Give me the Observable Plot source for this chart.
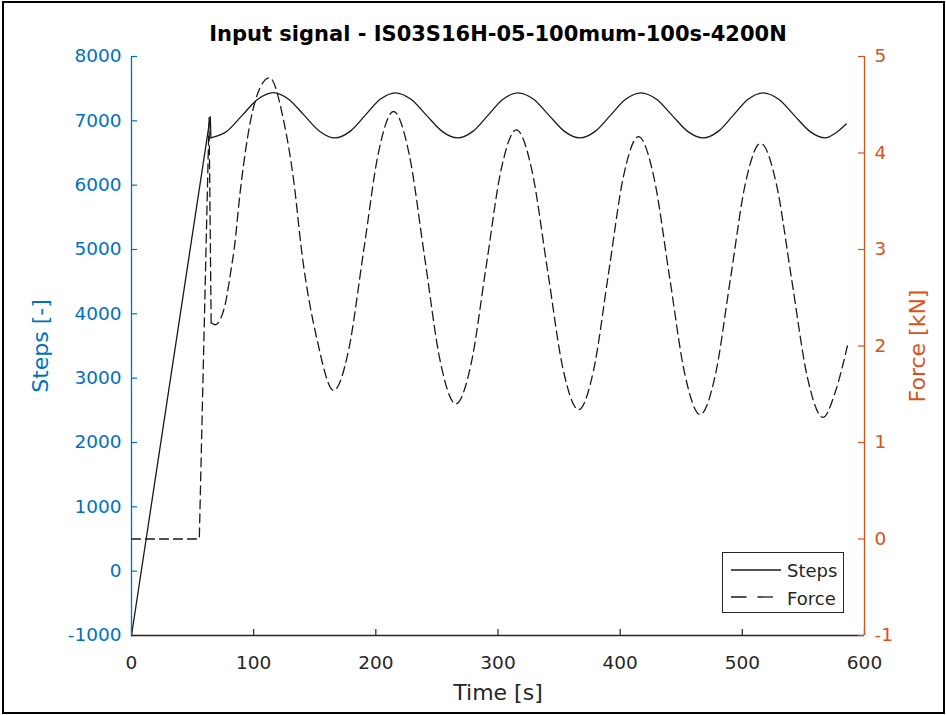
<!DOCTYPE html>
<html>
<head>
<meta charset="utf-8">
<script src="https://cdn.jsdelivr.net/npm/d3@7"></script>
<script src="https://cdn.jsdelivr.net/npm/@observablehq/plot@0.6"></script>
<style>
  html, body { margin: 0; padding: 0; background: white; }
  #wrap { position: relative; width: 946px; height: 715px; overflow: hidden; }
  #wrap svg { position: absolute; left: 0; top: 0; }
  #frame { position: absolute; left: 2px; top: 1px; width: 939px; height: 709px; border: 2px solid #000; pointer-events: none; }
  #legend { position: absolute; left: 722px; top: 552px; width: 120px; height: 59px; border: 1px solid #262626; background: #fff; }
</style>
</head>
<body>
<div id="wrap"></div>
<script>
// ---------- data ----------
const title = "Input signal - IS03S16H-05-100mum-100s-4200N";
const xLabel = "Time [s]";
const stepsLabel = "Steps [-]";
const forceLabel = "Force [kN]";
const seriesNames = ["Steps", "Force"];

const xTicks = [0, 100, 200, 300, 400, 500, 600];
const stepsTicks = [-1000, 0, 1000, 2000, 3000, 4000, 5000, 6000, 7000, 8000];
const forceTicks = [-1, 0, 1, 2, 3, 4, 5];

// Steps: linear ramp, then oscillation
const rampTime  = [0, 64.5, 65];
const rampSteps = [-1000, 7065, 6735];
const waveTime  = [65, 78.1, 90.75, 103.4, 116, 128.6, 141.25, 153.9, 166.5, 178.9, 191.25, 203.6, 216,
                   228.75, 241.5, 254.25, 267, 279.4, 291.75, 304.1, 316.5, 329.1, 341.75, 354.4, 367,
                   379.5, 392, 404.5, 417, 429.75, 442.5, 455.25, 468, 480.25, 492.5, 504.75, 517,
                   529.75, 542.5, 555.25, 568, 576.5, 585];
const waveSteps = [6735, 6838, 7088, 7337, 7440, 7337, 7088, 6838, 6734, 6836, 7085, 7334, 7436,
                   7334, 7085, 6836, 6734, 6836, 7085, 7334, 7435, 7334, 7085, 6836, 6734,
                   6836, 7085, 7334, 7435, 7334, 7085, 6836, 6734, 6836, 7085, 7334, 7435,
                   7334, 7085, 6836, 6734, 6812, 6950];

// Force: zero, fast rise, then oscillation
const forceRampTime = [0, 55.5, 63.5, 65.2];
const forceRampVal  = [0, 0, 4.37, 2.24];
const forceWaveTime = [65.2, 68.5, 72.8, 77, 81, 84, 89, 94.6, 104, 113, 124.6, 132.8, 139.6, 152, 165.5,
                       177.75, 190, 202.25, 214.5, 227.25, 240, 252.75, 265.5, 277.9, 290.25, 302.6, 315,
                       327.75, 340.5, 353.25, 366, 378.25, 390.5, 402.75, 415, 427.6, 440.25, 452.9, 465.5,
                       477.9, 490.25, 502.6, 515, 527.75, 540.5, 553.25, 566, 576, 586];
const forceWaveVal  = [2.24, 2.22, 2.28, 2.45, 2.75, 3.0, 3.6, 4.13, 4.64, 4.78, 4.33, 3.71, 2.95, 2.06, 1.54,
                       1.96, 2.985, 4.01, 4.43, 3.99, 2.915, 1.84, 1.40, 1.81, 2.82, 3.83, 4.24,
                       3.82, 2.79, 1.76, 1.34, 1.75, 2.755, 3.76, 4.17, 3.75, 2.73, 1.71, 1.29,
                       1.70, 2.695, 3.69, 4.10, 3.685, 2.68, 1.675, 1.26, 1.52, 2.0];

// ---------- build ----------
const BLUE = "#0072BD", ORANGE = "#D95319", GRAY = "#262626", INK = "#1a1a1a";
const FONT = "'DejaVu Sans', Verdana, sans-serif";
const W = 946, H = 715, ML = 131, MR = 82, MT = 56, MB = 80;
const PW = W - ML - MR, PH = H - MT - MB;
const fmt = d => String(d);

const zip = (xs, ys) => xs.map((x, i) => ({t: x, v: ys[i]}));
const ramp = zip(rampTime, rampSteps);
const wave = zip(waveTime, waveSteps);
const fRamp = zip(forceRampTime, forceRampVal);
const fWave = zip(forceWaveTime, forceWaveVal);

const common = {
  width: W, height: H, marginLeft: ML, marginRight: MR, marginTop: MT, marginBottom: MB
};

const p1 = Plot.plot({
  ...common,
  style: {fontFamily: FONT, background: "white", overflow: "visible"},
  x: {domain: [0, 600]},
  y: {domain: [-1000, 8000]},
  marks: [
    Plot.axisX({ticks: xTicks, tickFormat: fmt, tickSize: 0, tickPadding: 20, fontSize: 18.5, fill: GRAY, label: null}),
    Plot.axisY({ticks: stepsTicks, tickFormat: fmt, tickSize: 0, tickPadding: 10, fontSize: 18.5, fill: BLUE, label: null}),
    Plot.tickY(stepsTicks, {stroke: BLUE, strokeWidth: 1.2, insetRight: PW - 6}),
    Plot.tickX(xTicks, {stroke: GRAY, strokeWidth: 1.2, insetTop: PH - 6}),
    Plot.line(ramp, {x: "t", y: "v", stroke: INK, strokeWidth: 1.3}),
    Plot.line(wave, {x: "t", y: "v", stroke: INK, strokeWidth: 1.3, curve: "monotone-x"}),
    Plot.ruleY([-1000], {stroke: GRAY, strokeWidth: 1.3}),
    Plot.ruleX([0], {stroke: BLUE, strokeWidth: 1.3}),
    Plot.ruleX([600], {stroke: ORANGE, strokeWidth: 1.3}),
    Plot.text([title], {text: d => d, frameAnchor: "top", lineAnchor: "middle", dy: -22, fontSize: 21, fontWeight: "bold", fill: "#000"}),
    Plot.text([xLabel], {text: d => d, frameAnchor: "bottom", lineAnchor: "middle", dy: 57, fontSize: 22, fill: GRAY}),
    Plot.text([stepsLabel], {text: d => d, frameAnchor: "left", textAnchor: "middle", lineAnchor: "middle", dx: -91, rotate: -90, fontSize: 22, fill: BLUE})
  ]
});

const p2 = Plot.plot({
  ...common,
  style: {fontFamily: FONT, background: "transparent", overflow: "visible"},
  x: {domain: [0, 600], axis: null},
  y: {domain: [-1, 5]},
  marks: [
    Plot.axisY({anchor: "right", ticks: forceTicks, tickFormat: fmt, tickSize: 0, tickPadding: 10, fontSize: 18.5, fill: ORANGE, label: null}),
    Plot.tickY(forceTicks, {stroke: ORANGE, strokeWidth: 1.2, insetLeft: PW - 6}),
    Plot.line(fRamp, {x: "t", y: "v", stroke: INK, strokeWidth: 1.3, strokeDasharray: "9,5"}),
    Plot.line(fWave, {x: "t", y: "v", stroke: INK, strokeWidth: 1.3, strokeDasharray: "9,5", curve: "monotone-x"}),
    Plot.text([forceLabel], {text: d => d, frameAnchor: "right", textAnchor: "middle", lineAnchor: "middle", dx: 53, rotate: -90, fontSize: 22, fill: ORANGE})
  ]
});

const wrap = document.getElementById("wrap");
wrap.appendChild(p1);
wrap.appendChild(p2);

// legend
const lg = document.createElement("div");
lg.id = "legend";
const ff = "DejaVu Sans, Verdana, sans-serif";
lg.innerHTML = `
<svg width="120" height="59" style="position:absolute;left:0;top:0;overflow:visible">
  <line x1="8" x2="58" y1="17" y2="17" stroke="${INK}" stroke-width="1.3"/>
  <line x1="8" x2="58" y1="44" y2="44" stroke="${INK}" stroke-width="1.3" stroke-dasharray="15.5,11"/>
  <text x="64" y="18" dy="0.35em" font-size="18" fill="${GRAY}" font-family="${ff}">${seriesNames[0]}</text>
  <text x="64" y="45.5" dy="0.35em" font-size="18" fill="${GRAY}" font-family="${ff}">${seriesNames[1]}</text>
</svg>`;
wrap.appendChild(lg);

const fr = document.createElement("div");
fr.id = "frame";
wrap.appendChild(fr);
</script>
</body>
</html>
